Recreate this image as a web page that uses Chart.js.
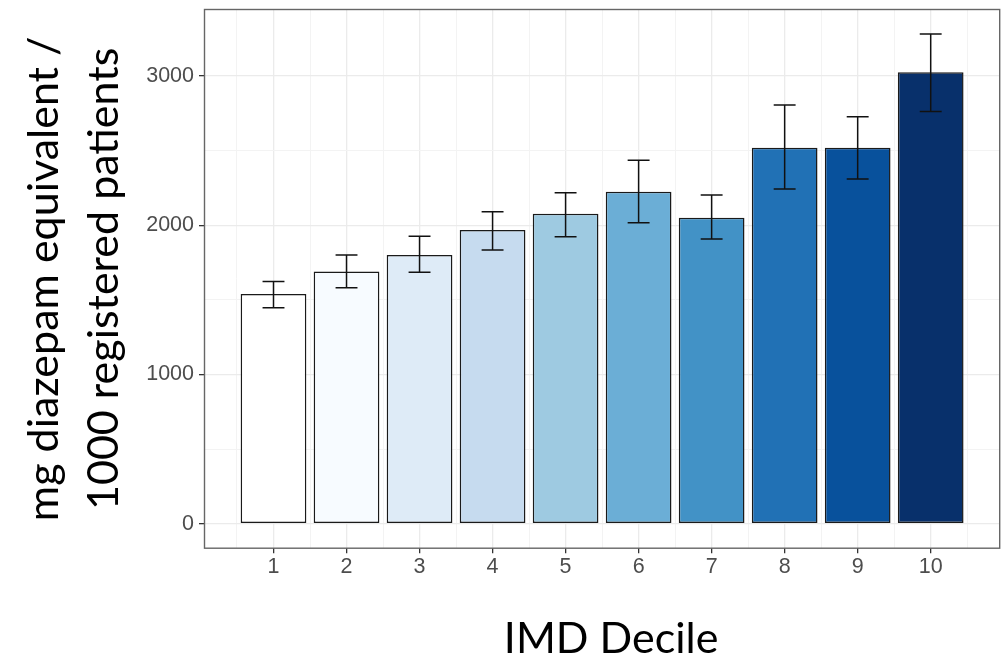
<!DOCTYPE html>
<html>
<head>
<meta charset="utf-8">
<script src="https://cdn.jsdelivr.net/npm/chart.js@4/dist/chart.umd.min.js"></script>
<style>
  html, body { margin: 0; padding: 0; background: #ffffff; }
  canvas { display: block; }
</style>
</head>
<body>
<canvas id="c" width="1007" height="661"></canvas>
<script>
// ---- data ----
const deciles = [1, 2, 3, 4, 5, 6, 7, 8, 9, 10];
const values  = [1539, 1691, 1800, 1968, 2077, 2225, 2051, 2520, 2520, 3025];
const lower   = [1447, 1581, 1685, 1834, 1923, 2017, 1908, 2243, 2310, 2763];
const upper   = [1624, 1800, 1926, 2091, 2218, 2435, 2203, 2806, 2727, 3282];
const barColors = ['#FFFFFF', '#F7FBFF', '#DEEBF7', '#C6DBEF', '#9ECAE1',
                   '#6BAED6', '#4292C6', '#2171B5', '#08519C', '#08306B'];
const yTicks = [0, 1000, 2000, 3000];
const yMinorTicks = [500, 1500, 2500];
const xMinorTicks = [0.5, 1.5, 2.5, 3.5, 4.5, 5.5, 6.5, 7.5, 8.5, 9.5, 10.5];
const xTitle = 'IMD Decile';
const yTitle = ['mg diazepam equivalent /', '1000 registered patients'];

// ggplot-like expanded ranges
const xMin = 0.055, xMax = 10.945;
const yMin = -164, yMax = 3446;

const panelBorder = {
  id: 'panelBorder',
  afterDraw(chart) {
    const {ctx, chartArea: a} = chart;
    ctx.save();
    ctx.strokeStyle = '#666666';
    ctx.lineWidth = 1.4;
    ctx.strokeRect(a.left, a.top, a.right - a.left, a.bottom - a.top);
    ctx.restore();
  }
};

const xAxisTitle = {
  id: 'xAxisTitle',
  afterDraw(chart) {
    const {ctx, chartArea: a} = chart;
    ctx.save();
    ctx.fillStyle = '#000000';
    ctx.font = '43px Lato, "Open Sans", sans-serif';
    ctx.textAlign = 'center';
    ctx.textBaseline = 'alphabetic';
    ctx.fillText(xTitle, (a.left + a.right) / 2 + 9, chart.height - 8);
    ctx.restore();
  }
};

const errorBars = {
  id: 'errorBars',
  afterDatasetsDraw(chart) {
    const {ctx} = chart;
    const xs = chart.scales.x, ys = chart.scales.y;
    ctx.save();
    ctx.strokeStyle = '#111111';
    ctx.lineWidth = 1.5;
    deciles.forEach((d, i) => {
      const px = xs.getPixelForValue(d);
      const half = xs.getPixelForValue(d + 0.15) - px;
      const yl = ys.getPixelForValue(lower[i]);
      const yu = ys.getPixelForValue(upper[i]);
      ctx.beginPath();
      ctx.moveTo(px, yl); ctx.lineTo(px, yu);
      ctx.moveTo(px - half, yu); ctx.lineTo(px + half, yu);
      ctx.moveTo(px - half, yl); ctx.lineTo(px + half, yl);
      ctx.stroke();
    });
    ctx.restore();
  }
};

const isMajorY = c => c.tick && yTicks.includes(c.tick.value);

new Chart(document.getElementById('c'), {
  type: 'bar',
  data: {
    datasets: [{
      data: deciles.map((d, i) => ({x: d, y: values[i]})),
      backgroundColor: barColors,
      borderColor: '#1A1A1A',
      borderWidth: 1.5,
      borderSkipped: false,
      barPercentage: 0.9,
      categoryPercentage: 1.0
    }]
  },
  options: {
    responsive: false,
    devicePixelRatio: 1,
    animation: false,
    layout: { padding: { top: 9.5, right: 7.3, bottom: 0, left: 0 } },
    plugins: { legend: { display: false }, tooltip: { enabled: false } },
    scales: {
      x: {
        type: 'linear',
        position: 'bottom',
        min: xMin, max: xMax,
        offset: false,
        afterBuildTicks: s => { s.ticks = deciles.map(v => ({value: v})); },
        grid: {
          offset: false,
          color: '#EBEBEB',
          lineWidth: 1.3,
          tickColor: '#333333',
          tickLength: 5,
          tickWidth: 1.3
        },
        border: { display: false },
        ticks: {
          padding: 1,
          color: '#4D4D4D',
          font: { family: '"Liberation Sans", Arial, sans-serif', size: 21.5 },
          callback: v => String(v)
        },
        title: { display: false },
        afterFit: s => { s.height = 112.8; s.paddingLeft = 0; s.paddingRight = 0; }
      },
      x2: {
        type: 'linear',
        position: 'bottom',
        min: xMin, max: xMax,
        offset: false,
        afterBuildTicks: s => { s.ticks = xMinorTicks.map(v => ({value: v})); },
        grid: { offset: false, color: '#F3F3F3', lineWidth: 1, drawTicks: false },
        border: { display: false },
        ticks: { display: false },
        afterFit: s => { s.height = 0; s.paddingLeft = 0; s.paddingRight = 0; }
      },
      y: {
        type: 'linear',
        min: yMin, max: yMax,
        afterBuildTicks: s => {
          s.ticks = yTicks.concat(yMinorTicks).sort((a, b) => a - b).map(v => ({value: v}));
        },
        grid: {
          color: c => isMajorY(c) ? '#EBEBEB' : '#F3F3F3',
          lineWidth: c => isMajorY(c) ? 1.3 : 1,
          tickColor: c => isMajorY(c) ? '#333333' : 'rgba(0,0,0,0)',
          tickLength: 5.5,
          tickWidth: 1.3
        },
        border: { display: false },
        ticks: {
          padding: 5,
          color: '#4D4D4D',
          font: { family: '"Liberation Sans", Arial, sans-serif', size: 21.5 },
          callback: v => yTicks.includes(v) ? String(v) : ''
        },
        title: {
          display: true,
          text: yTitle,
          color: '#000000',
          font: { family: 'Lato, "Open Sans", sans-serif', size: 43, lineHeight: 1.4 },
          padding: { top: 14, bottom: 0 }
        },
        afterFit: s => { s.width = 204.5; s.paddingTop = 0; s.paddingBottom = 0; }
      }
    }
  },
  plugins: [panelBorder, errorBars, xAxisTitle]
});
</script>
</body>
</html>
